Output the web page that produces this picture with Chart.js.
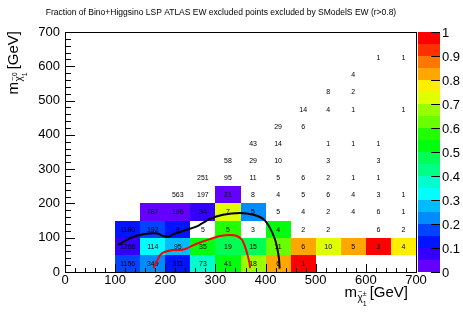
<!DOCTYPE html>
<html>
<head>
<meta charset="utf-8"/>
<title>SModelS EW fraction</title>
<script src="https://cdn.jsdelivr.net/npm/chart.js@4.4.0/dist/chart.umd.min.js"></script>
<style>
  body { margin: 0; background: #fff; }
</style>
</head>
<body>
<canvas id="chart" width="463" height="314"></canvas>
<script>
// cell centres in GeV (cells are 50 GeV wide)
var xCenters = [125, 175, 225, 275, 325, 375, 425, 475, 525, 575, 625, 675];
var yCenters = [25, 75, 125, 175, 225, 275, 325, 375, 425, 475, 525, 575, 625];
var binW = 50;

// number of ATLAS excluded points per cell, one row per m(chi10) bin (null = empty)
var n25  = [1156, 349, 311, 73, 41, 18, 6, 1, null, null, null, null];
var n75  = [1266, 114, 95, 35, 19, 15, 11, 6, 10, 5, 3, 4];
var n125 = [1180, 192, 9, 5, 5, 3, 4, 2, 2, null, 6, 2];
var n175 = [null, 787, 196, 34, 7, 5, 5, 4, 2, 4, 6, 1];
var n225 = [null, null, 563, 197, 21, 8, 4, 5, 6, 4, 3, 1];
var n275 = [null, null, null, 251, 95, 11, 5, 6, 2, 1, 1, null];
var n325 = [null, null, null, null, 58, 29, 10, null, 3, null, 3, null];
var n375 = [null, null, null, null, null, 43, 14, null, 1, 1, 1, null];
var n425 = [null, null, null, null, null, null, 29, 6, null, null, null, null];
var n475 = [null, null, null, null, null, null, null, 14, 4, 1, null, 1];
var n525 = [null, null, null, null, null, null, null, null, 8, 2, null, null];
var n575 = [null, null, null, null, null, null, null, null, null, 4, null, null];
var n625 = [null, null, null, null, null, null, null, null, null, null, 1, 1];

// fraction also excluded by SModelS (0 = white)
var f25  = [0.16, 0.22, 0.12, 0.37, 0.54, 0.67, 0.83, 1.0, 0, 0, 0, 0];
var f75  = [0.08, 0.32, 0.27, 0.51, 0.47, 0.47, 0.64, 0.83, 0.7, 0.8, 1.0, 0.75];
var f125 = [0.13, 0.15, 0.11, 0, 0.57, 0, 0.5, 0, 0, 0, 0, 0];
var f175 = [0, 0.03, 0.04, 0.06, 0.71, 0.2, 0, 0, 0, 0, 0, 0];
var f225 = [0, 0, 0, 0, 0.048, 0, 0, 0, 0, 0, 0, 0];

var countRows = [n25, n75, n125, n175, n225, n275, n325, n375, n425, n475, n525, n575, n625];
var fracRows  = [f25, f75, f125, f175, f225];

// exclusion contours (GeV)
var atlasX = [106, 130, 156, 183, 196, 206, 216, 236, 263, 289, 315, 349, 376, 396, 409, 419, 424, 427, 428];
var atlasY = [79, 99, 110, 113, 105, 103, 110, 120, 133, 155, 167, 172, 167, 154, 128, 94, 64, 35, 10];
var smodelsX = [176, 183, 190, 200, 216, 230, 240, 253, 269, 289, 309, 329, 343, 353, 359, 364, 368, 369];
var smodelsY = [11, 30, 50, 59, 64, 64, 67, 76, 86, 96, 105, 108, 105, 94, 74, 50, 25, 11];

var zTicks = [0, 0.1, 0.2, 0.3, 0.4, 0.5, 0.6, 0.7, 0.8, 0.9, 1];

var cells = [];
countRows.forEach(function(row, j) {
    row.forEach(function(n, i) {
        if (n === null) return;
        var f = fracRows[j] ? fracRows[j][i] : 0;
        cells.push({x: xCenters[i], y: yCenters[j], n: n, f: f});
    });
});

function pts(xs, ys) {
    return xs.map(function(x, i) { return {x: x, y: ys[i]}; });
}

// ROOT "pretty" palette, 20 contour levels
function levelColor(k) {
    var idx = Math.floor((k + 0.99) * 2.5);
    var hue = idx >= 49 ? 0 : 280 - (idx + 1) * 5.6;
    return 'hsl(' + hue + ',100%,50%)';
}
function fracColor(f) {
    return levelColor(Math.min(19, Math.floor(f * 20)));
}

var FONT = '"Liberation Sans", Arial, sans-serif';

// draws m_{chi~ sub/sup} [GeV] from the current origin, returns width
function massTitle(c, sup, sub, draw) {
    var x = 0;
    c.font = '15px ' + FONT;
    if (draw) c.fillText('m', x, 0);
    x += c.measureText('m').width + 0.5;
    c.font = '10px ' + FONT;
    var chiW = c.measureText('\u03c7').width;
    if (draw) {
        c.fillText('\u03c7', x, 4);
        c.font = '7px ' + FONT;
        c.fillText('~', x + chiW / 2 - 2, -3);
    }
    x += chiW;
    c.font = '7px ' + FONT;
    if (draw) {
        c.fillText(sup, x, -1);
        c.fillText(sub, x, 9);
    }
    x += Math.max(c.measureText(sup).width, c.measureText(sub).width) + 3;
    c.font = '15px ' + FONT;
    if (draw) c.fillText('[GeV]', x, 0);
    x += c.measureText('[GeV]').width;
    return x;
}

var cellsPlugin = {
    id: 'cells',
    beforeDatasetsDraw: function(chart) {
        var c = chart.ctx, xs = chart.scales.x, ys = chart.scales.y;
        c.save();
        cells.forEach(function(cell) {
            if (cell.f <= 0) return;
            var x0 = Math.round(xs.getPixelForValue(cell.x - binW / 2));
            var x1 = Math.round(xs.getPixelForValue(cell.x + binW / 2));
            var y0 = Math.round(ys.getPixelForValue(cell.y + binW / 2));
            var y1 = Math.round(ys.getPixelForValue(cell.y - binW / 2));
            c.fillStyle = fracColor(cell.f);
            c.fillRect(x0, y0, x1 - x0, y1 - y0);
        });
        c.fillStyle = '#000';
        c.font = '7px ' + FONT;
        c.textAlign = 'center';
        c.textBaseline = 'middle';
        cells.forEach(function(cell) {
            c.fillText(String(cell.n), xs.getPixelForValue(cell.x), ys.getPixelForValue(cell.y) + 0.5);
        });
        c.restore();
    }
};

var framePlugin = {
    id: 'frame',
    afterDraw: function(chart) {
        var c = chart.ctx, a = chart.chartArea;
        var xs = chart.scales.x, ys = chart.scales.y, zs = chart.scales.z;
        c.save();
        // frame
        c.strokeStyle = '#000';
        c.lineWidth = 1;
        c.strokeRect(Math.round(a.left) + 0.5, Math.round(a.top) + 0.5,
                     Math.round(a.right - a.left), Math.round(a.bottom - a.top));
        // inward ticks
        c.beginPath();
        for (var v = 0; v <= 700; v += 20) {
            var len = (v % 100 === 0) ? 8 : 4;
            var px = Math.round(xs.getPixelForValue(v)) + 0.5;
            c.moveTo(px, a.bottom);
            c.lineTo(px, a.bottom - len);
            var py = Math.round(ys.getPixelForValue(v)) + 0.5;
            c.moveTo(a.left, py);
            c.lineTo(a.left + len + 2, py);
        }
        c.stroke();

        // colour bar
        var bx0 = 418, bx1 = 440;
        for (var k = 0; k < 20; k++) {
            var ya = Math.round(zs.getPixelForValue((k + 1) / 20));
            var yb = Math.round(zs.getPixelForValue(k / 20));
            c.fillStyle = levelColor(k);
            c.fillRect(bx0, ya, bx1 - bx0, yb - ya);
        }
        c.beginPath();
        zTicks.forEach(function(t) {
            var py = Math.round(zs.getPixelForValue(t)) + 0.5;
            c.moveTo(bx1 - 9, py);
            c.lineTo(bx1, py);
        });
        c.stroke();
        c.fillStyle = '#000';
        c.font = '13px ' + FONT;
        c.textAlign = 'left';
        c.textBaseline = 'middle';
        zTicks.forEach(function(t) {
            c.fillText(String(t), bx1 + 2, zs.getPixelForValue(t) + 1);
        });

        // title
        c.font = '8.5px ' + FONT;
        c.textAlign = 'center';
        c.textBaseline = 'middle';
        c.fillText('Fraction of Bino+Higgsino LSP ATLAS EW excluded points excluded by SModelS EW (r>0.8)', 221, 13);

        // axis titles
        c.textAlign = 'left';
        c.textBaseline = 'alphabetic';
        var wx = massTitle(c, '\u00b1', '1', false);
        c.save();
        c.translate(408 - wx, 297);
        massTitle(c, '\u00b1', '1', true);
        c.restore();
        var wy = massTitle(c, '0', '1', false);
        c.save();
        c.translate(18, 31 + wy);
        c.rotate(-Math.PI / 2);
        massTitle(c, '0', '1', true);
        c.restore();
        c.restore();
    }
};

Chart.defaults.font.family = FONT;
Chart.defaults.color = '#000';

var ctx = document.getElementById('chart');
var myChart = new Chart(ctx, {
    type: 'scatter',
    data: {
        datasets: [{
            label: 'ATLAS',
            data: pts(atlasX, atlasY),
            showLine: true,
            borderColor: '#000000',
            borderWidth: 2,
            pointRadius: 0,
            tension: 0.25,
            fill: false
        }, {
            label: 'SModelS',
            data: pts(smodelsX, smodelsY),
            showLine: true,
            borderColor: '#ff0000',
            borderWidth: 2,
            pointRadius: 0,
            tension: 0.25,
            fill: false
        }]
    },
    options: {
        responsive: false,
        animation: false,
        layout: { padding: { top: 32, right: 47, left: 0, bottom: 0 } },
        plugins: { legend: { display: false }, tooltip: { enabled: false } },
        scales: {
            x: {
                type: 'linear', min: 0, max: 700,
                ticks: { stepSize: 100, padding: 1, font: { size: 13 }, maxRotation: 0, autoSkip: false },
                grid: { display: false, drawTicks: false },
                border: { display: false },
                afterFit: function(s) { s.height = 42; }
            },
            y: {
                type: 'linear', min: 0, max: 700,
                ticks: { stepSize: 100, padding: 5, font: { size: 13 }, autoSkip: false },
                grid: { display: false, drawTicks: false },
                border: { display: false },
                afterFit: function(s) { s.width = 65; }
            },
            z: { type: 'linear', display: false, min: 0, max: 1, position: 'right' }
        }
    },
    plugins: [cellsPlugin, framePlugin]
});
</script>
</body>
</html>
